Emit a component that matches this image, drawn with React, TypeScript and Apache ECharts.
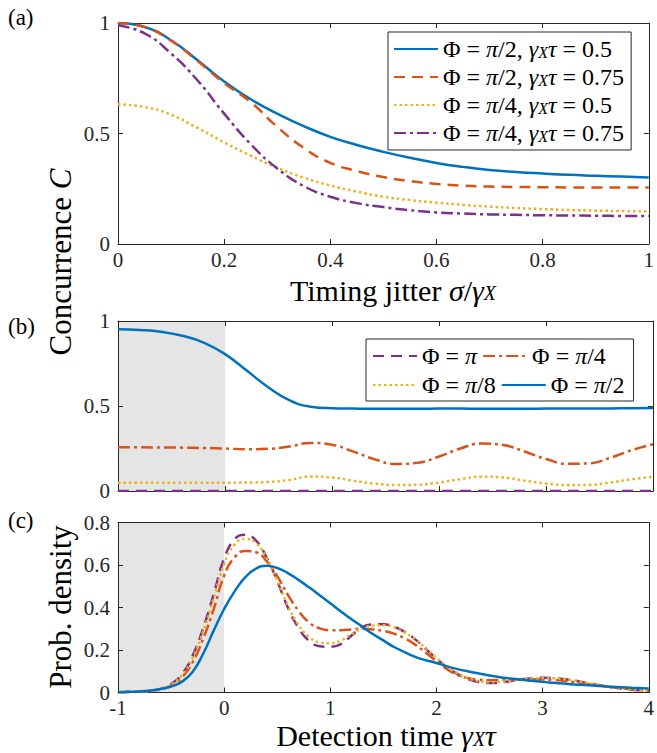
import { useEffect, useRef } from 'react';
import * as echarts from 'echarts';

const FONT = "'Liberation Serif', 'DejaVu Serif', serif";
const AXIS_COLOR = '#262626';
const C_BLUE = '#0072BD';
const C_ORANGE = '#D95319';
const C_YELLOW = '#EDB120';
const C_PURPLE = '#7E2F8E';
const SHADE = '#e5e5e5';

const DASH = [11, 7];
const DOT = [2.5, 3];
const DASHDOT = [12, 4, 3, 4];

// ---------- Panel (a): concurrence vs timing jitter ----------
const jitter = [0, 0.05, 0.1, 0.15, 0.2, 0.25, 0.3, 0.35, 0.4, 0.45, 0.5, 0.55, 0.6, 0.65, 0.7, 0.75, 0.8, 0.85, 0.9, 0.95, 1];
const aHalf05 = [1.0, 0.982, 0.922, 0.831, 0.735, 0.655, 0.59, 0.533, 0.485, 0.448, 0.417, 0.39, 0.367, 0.349, 0.335, 0.326, 0.319, 0.313, 0.309, 0.305, 0.301];
const aHalf075 = [1.0, 0.982, 0.92, 0.828, 0.728, 0.642, 0.53, 0.435, 0.367, 0.33, 0.303, 0.285, 0.272, 0.264, 0.26, 0.258, 0.257, 0.256, 0.256, 0.256, 0.256];
const aQuarter05 = [0.632, 0.62, 0.585, 0.525, 0.46, 0.4, 0.345, 0.3, 0.265, 0.237, 0.214, 0.199, 0.187, 0.177, 0.169, 0.163, 0.158, 0.154, 0.151, 0.149, 0.147];
const aQuarter075 = [0.99, 0.953, 0.862, 0.74, 0.59, 0.452, 0.342, 0.262, 0.214, 0.185, 0.167, 0.153, 0.143, 0.138, 0.134, 0.132, 0.13, 0.129, 0.128, 0.127, 0.127];

// ---------- Panel (b): concurrence vs detection time ----------
const timeB = [-1, -0.8, -0.6, -0.4, -0.2, 0, 0.2, 0.4, 0.6, 0.8, 1, 1.2, 1.4, 1.6, 1.8, 2, 2.2, 2.4, 2.6, 2.8, 3, 3.2, 3.4, 3.6, 3.8, 4];
const bPi = [0, 0, 0, 0, 0, 0, 0, 0, 0, 0, 0, 0, 0, 0, 0, 0, 0, 0, 0, 0, 0, 0, 0, 0, 0, 0];
const bQuarter = [0.257, 0.257, 0.256, 0.255, 0.253, 0.25, 0.246, 0.248, 0.262, 0.283, 0.272, 0.232, 0.186, 0.159, 0.166, 0.203, 0.25, 0.279, 0.27, 0.232, 0.188, 0.16, 0.163, 0.195, 0.24, 0.275];
const bEighth = [0.049, 0.049, 0.049, 0.049, 0.049, 0.049, 0.05, 0.053, 0.065, 0.085, 0.08, 0.06, 0.043, 0.035, 0.037, 0.05, 0.07, 0.084, 0.08, 0.061, 0.044, 0.035, 0.036, 0.05, 0.069, 0.083];
const bHalf = [0.951, 0.947, 0.937, 0.913, 0.873, 0.805, 0.71, 0.612, 0.535, 0.496, 0.487, 0.485, 0.484, 0.484, 0.484, 0.485, 0.485, 0.484, 0.484, 0.484, 0.485, 0.485, 0.485, 0.486, 0.487, 0.488];

// ---------- Panel (c): probability density vs detection time ----------
const timeC = [-1, -0.9, -0.8, -0.7, -0.6, -0.5, -0.4, -0.3, -0.2, -0.1, 0, 0.1, 0.2, 0.3, 0.4, 0.5, 0.6, 0.7, 0.8, 0.9, 1, 1.1, 1.2, 1.3, 1.4, 1.5, 1.6, 1.7, 1.8, 1.9, 2, 2.1, 2.2, 2.3, 2.4, 2.5, 2.6, 2.7, 2.8, 2.9, 3, 3.1, 3.2, 3.3, 3.4, 3.5, 3.6, 3.7, 3.8, 3.9, 4];
const cPi = [0.001, 0.002, 0.004, 0.008, 0.017, 0.04, 0.085, 0.17, 0.3, 0.46, 0.63, 0.722, 0.742, 0.715, 0.635, 0.525, 0.4, 0.305, 0.243, 0.218, 0.215, 0.228, 0.268, 0.308, 0.32, 0.321, 0.309, 0.285, 0.25, 0.205, 0.16, 0.118, 0.087, 0.063, 0.049, 0.045, 0.047, 0.054, 0.062, 0.067, 0.069, 0.068, 0.063, 0.056, 0.046, 0.037, 0.029, 0.022, 0.016, 0.011, 0.008];
const cQuarter = [0.001, 0.002, 0.004, 0.007, 0.015, 0.033, 0.07, 0.14, 0.25, 0.39, 0.55, 0.637, 0.666, 0.66, 0.618, 0.548, 0.46, 0.385, 0.33, 0.302, 0.293, 0.293, 0.297, 0.3, 0.297, 0.29, 0.277, 0.255, 0.225, 0.187, 0.148, 0.11, 0.082, 0.067, 0.06, 0.058, 0.059, 0.061, 0.062, 0.062, 0.061, 0.059, 0.055, 0.049, 0.042, 0.035, 0.028, 0.021, 0.016, 0.011, 0.008];
const cEighth = [0.001, 0.002, 0.004, 0.008, 0.016, 0.038, 0.08, 0.16, 0.285, 0.44, 0.605, 0.697, 0.723, 0.703, 0.632, 0.527, 0.41, 0.318, 0.262, 0.236, 0.232, 0.245, 0.275, 0.302, 0.315, 0.317, 0.307, 0.283, 0.25, 0.208, 0.163, 0.123, 0.09, 0.067, 0.053, 0.048, 0.05, 0.055, 0.062, 0.066, 0.068, 0.067, 0.063, 0.056, 0.047, 0.038, 0.03, 0.023, 0.017, 0.012, 0.008];
const cHalf = [0.002, 0.003, 0.005, 0.009, 0.016, 0.028, 0.05, 0.095, 0.18, 0.29, 0.393, 0.477, 0.543, 0.583, 0.596, 0.586, 0.562, 0.53, 0.495, 0.458, 0.42, 0.381, 0.345, 0.31, 0.275, 0.245, 0.214, 0.19, 0.168, 0.152, 0.139, 0.123, 0.11, 0.099, 0.089, 0.08, 0.072, 0.066, 0.06, 0.055, 0.05, 0.046, 0.042, 0.038, 0.035, 0.032, 0.028, 0.026, 0.023, 0.021, 0.019];

// ---------- Tick settings ----------
const ticksA_x = { min: 0, max: 1, interval: 0.2 };
const ticksA_y = { min: 0, max: 1, interval: 0.5 };
const ticksB_x = { min: -1, max: 4, interval: 1 };
const ticksB_y = { min: 0, max: 1, interval: 0.5 };
const ticksC_x = { min: -1, max: 4, interval: 1 };
const ticksC_y = { min: 0, max: 0.8, interval: 0.2 };

// ---------- Legend labels ----------
const NAMES_A = ['Φ = π/2, γXτ = 0.5', 'Φ = π/2, γXτ = 0.75', 'Φ = π/4, γXτ = 0.5', 'Φ = π/4, γXτ = 0.75'];
const NAMES_B = ['Φ = π', 'Φ = π/4', 'Φ = π/8', 'Φ = π/2'];
const RICH_LABEL: Record<string, string> = {
  [NAMES_A[0]]: '{r|Φ = }{i|π}{r|/2, }{i|γ}{s|X}{i|τ}{r| = 0.5}',
  [NAMES_A[1]]: '{r|Φ = }{i|π}{r|/2, }{i|γ}{s|X}{i|τ}{r| = 0.75}',
  [NAMES_A[2]]: '{r|Φ = }{i|π}{r|/4, }{i|γ}{s|X}{i|τ}{r| = 0.5}',
  [NAMES_A[3]]: '{r|Φ = }{i|π}{r|/4, }{i|γ}{s|X}{i|τ}{r| = 0.75}',
  [NAMES_B[0]]: '{r|Φ = }{i|π}',
  [NAMES_B[1]]: '{r|Φ = }{i|π}{r|/4}',
  [NAMES_B[2]]: '{r|Φ = }{i|π}{r|/8}',
  [NAMES_B[3]]: '{r|Φ = }{i|π}{r|/2}',
};

const pairs = (xs: number[], ys: number[]) => xs.map((x, i) => [x, ys[i]]);

const legendRich = {
  r: { fontFamily: FONT, fontSize: 24, color: '#000', lineHeight: 22 },
  i: { fontFamily: FONT, fontSize: 24, fontStyle: 'italic', color: '#000', lineHeight: 22 },
  s: { fontFamily: FONT, fontSize: 16, fontStyle: 'italic', color: '#000', lineHeight: 10, verticalAlign: 'bottom' },
};

const makeTitleRich = (size: number) => ({
  r: { fontFamily: FONT, fontSize: size, lineHeight: 26, fill: '#000' },
  i: { fontFamily: FONT, fontSize: size, fontStyle: 'italic', lineHeight: 26, fill: '#000' },
  s: { fontFamily: FONT, fontSize: Math.round(size * 0.68), fontStyle: 'italic', lineHeight: 12, verticalAlign: 'bottom', fill: '#000' },
});
const yTitleRich = makeTitleRich(31);
const xTitleRich = makeTitleRich(30);

function axisPair(kind: 'x' | 'y', grid: number, t: { min: number; max: number; interval: number }, showLabels: boolean) {
  const common = {
    type: 'value',
    gridIndex: grid,
    min: t.min,
    max: t.max,
    interval: t.interval,
    z: 2,
    splitLine: { show: false },
    axisLine: { show: true, onZero: false, lineStyle: { color: AXIS_COLOR, width: 1 } },
    axisTick: { show: true, inside: true, length: 5, lineStyle: { color: AXIS_COLOR, width: 1 } },
  };
  const main = {
    ...common,
    position: kind === 'x' ? 'bottom' : 'left',
    axisLabel: {
      show: showLabels,
      showMinLabel: true,
      showMaxLabel: true,
      fontFamily: FONT,
      fontSize: 21,
      color: AXIS_COLOR,
      margin: kind === 'x' ? 5 : 8,
    },
  };
  const mirror = {
    ...common,
    position: kind === 'x' ? 'top' : 'right',
    axisLabel: { show: false },
  };
  return [main, mirror];
}

function lineSeries(name: string, xs: number[], ys: number[], color: string, dash: any, xi: number, yi: number, extra: any = {}) {
  return {
    name,
    type: 'line',
    data: pairs(xs, ys),
    xAxisIndex: xi,
    yAxisIndex: yi,
    symbol: 'none',
    smooth: true,
    silent: true,
    z: 3,
    lineStyle: { color, width: 2.5, type: dash, cap: 'butt' },
    itemStyle: { color },
    ...extra,
  };
}

const shade = {
  silent: true,
  itemStyle: { color: SHADE },
  data: [[{ xAxis: -1 }, { xAxis: 0 }]],
};

export default function App() {
  const ref = useRef<HTMLDivElement>(null);
  useEffect(() => {
    if (!ref.current) return;
    const chart = echarts.init(ref.current, undefined, { renderer: 'svg' });
    const option: any = {
      animation: false,
      backgroundColor: '#fff',
      textStyle: { fontFamily: FONT },
      grid: [
        { left: 118, width: 535, top: 23, height: 221, containLabel: false },
        { left: 118, width: 535, top: 321, height: 170, containLabel: false },
        { left: 118, width: 535, top: 522.5, height: 170, containLabel: false },
      ],
      xAxis: [
        ...axisPair('x', 0, ticksA_x, true),
        ...axisPair('x', 1, ticksB_x, false),
        ...axisPair('x', 2, ticksC_x, true),
      ],
      yAxis: [
        ...axisPair('y', 0, ticksA_y, true),
        ...axisPair('y', 1, ticksB_y, true),
        ...axisPair('y', 2, ticksC_y, true),
      ],
      legend: [
        {
          data: NAMES_A,
          orient: 'vertical',
          left: 388,
          top: 32,
          padding: [5, 7, 5, 5],
          itemWidth: 44,
          itemHeight: 14,
          itemGap: 4,
          selectedMode: false,
          backgroundColor: '#fff',
          borderColor: AXIS_COLOR,
          borderWidth: 1,
          borderRadius: 0,
          itemStyle: { opacity: 0 },
          formatter: (n: string) => RICH_LABEL[n] || n,
          textStyle: { fontFamily: FONT, fontSize: 24, color: '#000', width: 193, rich: legendRich },
        },
        {
          data: NAMES_B,
          orient: 'horizontal',
          left: 366,
          top: 339,
          width: 275,
          padding: [5, 9, 4, 6],
          itemWidth: 44,
          itemHeight: 14,
          itemGap: 5,
          selectedMode: false,
          backgroundColor: '#fff',
          borderColor: AXIS_COLOR,
          borderWidth: 1,
          borderRadius: 0,
          itemStyle: { opacity: 0 },
          formatter: (n: string) => RICH_LABEL[n] || n,
          textStyle: { fontFamily: FONT, fontSize: 24, color: '#000', width: 82, rich: legendRich },
        },
      ],
      series: [
        lineSeries(NAMES_A[0], jitter, aHalf05, C_BLUE, 'solid', 0, 0),
        lineSeries(NAMES_A[1], jitter, aHalf075, C_ORANGE, DASH, 0, 0),
        lineSeries(NAMES_A[2], jitter, aQuarter05, C_YELLOW, DOT, 0, 0),
        lineSeries(NAMES_A[3], jitter, aQuarter075, C_PURPLE, DASHDOT, 0, 0),

        lineSeries(NAMES_B[0], timeB, bPi, C_PURPLE, DASH, 2, 2, { markArea: shade }),
        lineSeries(NAMES_B[1], timeB, bQuarter, C_ORANGE, DASHDOT, 2, 2),
        lineSeries(NAMES_B[2], timeB, bEighth, C_YELLOW, DOT, 2, 2),
        lineSeries(NAMES_B[3], timeB, bHalf, C_BLUE, 'solid', 2, 2),

        lineSeries(NAMES_B[0], timeC, cPi, C_PURPLE, DASH, 4, 4, { markArea: shade }),
        lineSeries(NAMES_B[1], timeC, cQuarter, C_ORANGE, DASHDOT, 4, 4),
        lineSeries(NAMES_B[2], timeC, cEighth, C_YELLOW, DOT, 4, 4),
        lineSeries(NAMES_B[3], timeC, cHalf, C_BLUE, 'solid', 4, 4),
      ],
      graphic: [
        { type: 'text', x: 8, y: 17.5, style: { text: '(a)', fontFamily: FONT, fontSize: 23, fill: '#000', align: 'left', verticalAlign: 'middle' } },
        { type: 'text', x: 8, y: 326.5, style: { text: '(b)', fontFamily: FONT, fontSize: 23, fill: '#000', align: 'left', verticalAlign: 'middle' } },
        { type: 'text', x: 8, y: 520, style: { text: '(c)', fontFamily: FONT, fontSize: 23, fill: '#000', align: 'left', verticalAlign: 'middle' } },
        { type: 'text', x: 60, y: 262, rotation: Math.PI / 2, style: { text: '{r|Concurrence }{i|C}', rich: yTitleRich, fill: '#000', align: 'center', verticalAlign: 'middle' } },
        { type: 'text', x: 60, y: 607, rotation: Math.PI / 2, style: { text: '{r|Prob. density}', rich: yTitleRich, fill: '#000', align: 'center', verticalAlign: 'middle' } },
        { type: 'text', x: 393, y: 290, style: { text: '{r|Timing jitter }{i|σ}{r|/}{i|γ}{s|X}', rich: xTitleRich, fill: '#000', align: 'center', verticalAlign: 'middle' } },
        { type: 'text', x: 386, y: 735.5, style: { text: '{r|Detection time }{i|γ}{s|X}{i|τ}', rich: xTitleRich, fill: '#000', align: 'center', verticalAlign: 'middle' } },
      ],
    };
    chart.setOption(option);
    return () => chart.dispose();
  }, []);
  return <div ref={ref} style={{ position: 'absolute', left: 0, top: 0, width: 657, height: 753, background: '#fff' }} />;
}
